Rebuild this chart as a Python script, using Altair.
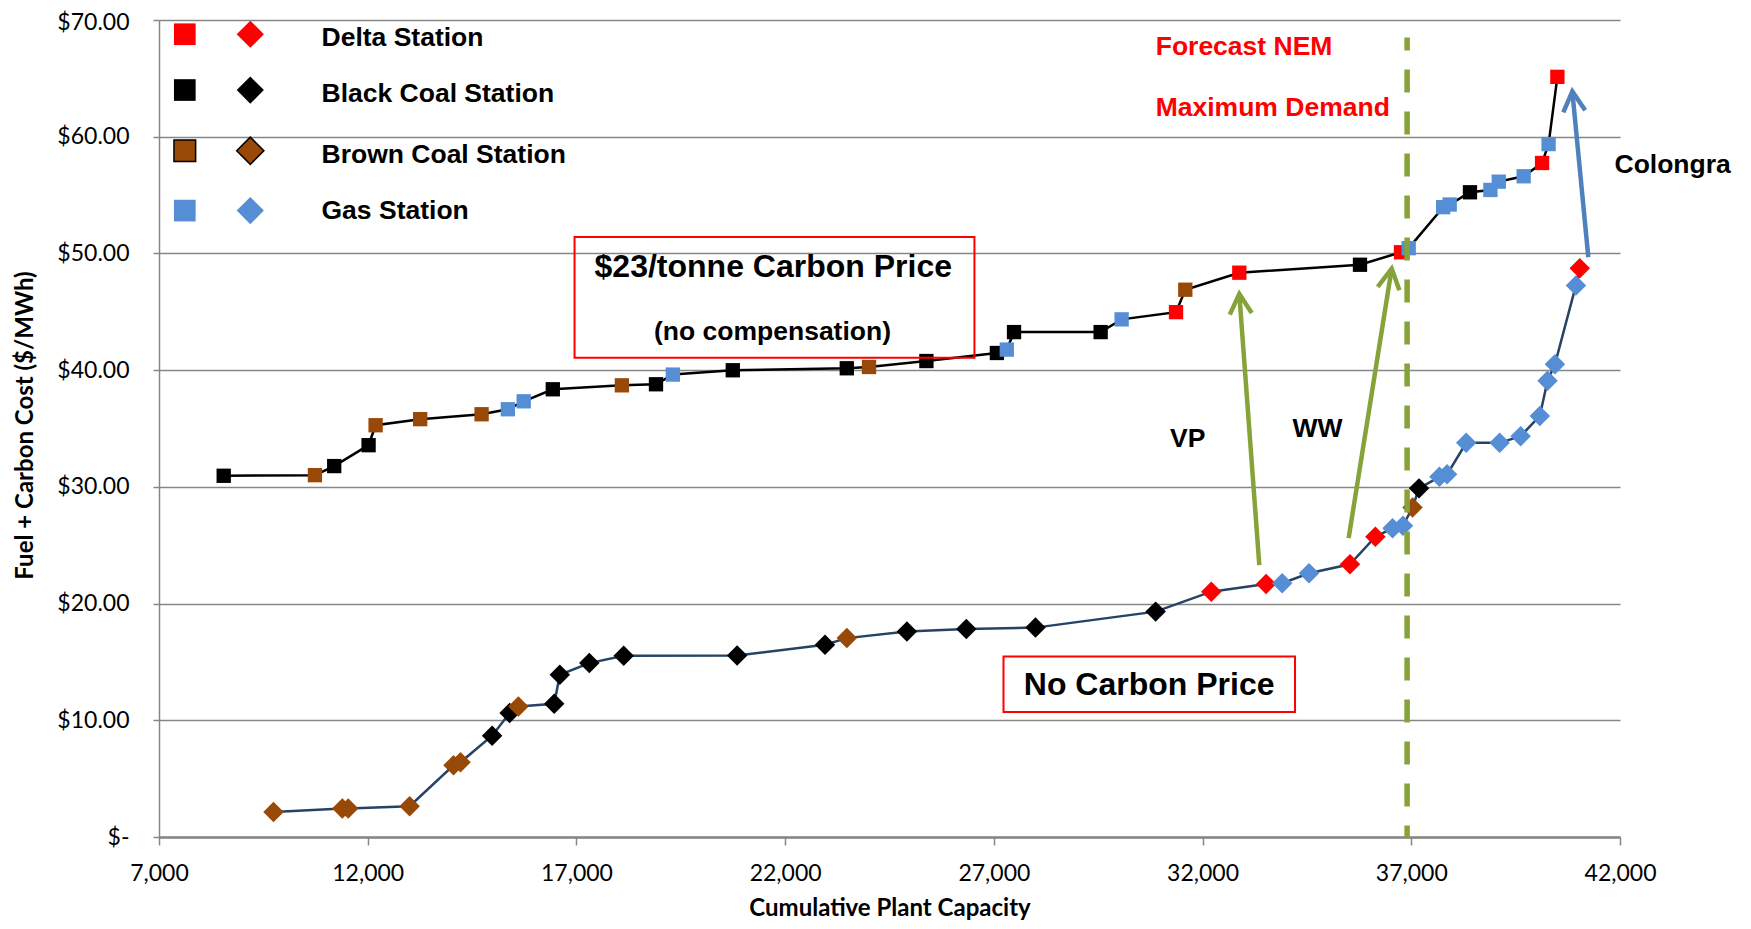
import altair as alt
import pandas as pd

# ---------------- data ----------------
TYPES = ["Delta", "Black", "Brown", "Gas"]
COLORS = ["#FF0000", "#000000", "#984807", "#558ED5"]

# $23/tonne carbon price (squares)
uc_cap = [8550, 10735, 11197, 12021, 12189, 13257, 14728, 15358, 15737, 16434,
          18089, 18906, 19309, 20746, 23477, 24009, 25384, 27073, 27310, 27483,
          29558, 30061, 31364, 31586, 32880, 35771, 36754, 36938, 37764, 37920,
          38406, 38895, 39096, 39692, 40133, 40289, 40500]
uc_cost = [30.95, 31.0, 31.78, 33.57, 35.28, 35.8, 36.22, 36.65, 37.33, 38.36,
           38.7, 38.79, 39.62, 39.99, 40.16, 40.27, 40.78, 41.47, 41.76, 43.26,
           43.26, 44.35, 44.97, 46.89, 48.35, 49.03, 50.1, 50.45, 53.96, 54.19,
           55.24, 55.44, 56.15, 56.61, 57.75, 59.37, 65.13]
uc_type = ["Black", "Brown", "Black", "Black", "Brown", "Brown", "Brown", "Gas", "Gas", "Black",
           "Brown", "Black", "Gas", "Black", "Black", "Brown", "Black", "Black", "Gas", "Black",
           "Black", "Gas", "Delta", "Brown", "Delta", "Black", "Delta", "Gas", "Gas", "Gas",
           "Black", "Gas", "Gas", "Gas", "Delta", "Gas", "Delta"]

# No carbon price (diamonds)
lc_cap = [9743, 11391, 11533, 13004, 14055, 14223, 14980, 15399, 15610, 16468,
          16602, 17308, 18132, 20850, 22955, 23477, 24917, 26340, 27997, 30876,
          32209, 33522, 33908, 34550, 35532, 36140, 36552, 36801, 37030, 37185,
          37674, 37857, 38316, 39116, 39620, 40079, 40264, 40441, 40944, 41036]
lc_cost = [2.15, 2.44, 2.44, 2.64, 6.14, 6.4, 8.68, 10.62, 11.19, 11.42,
           13.9, 14.9, 15.52, 15.55, 16.47, 17.04, 17.6, 17.83, 17.94, 19.31,
           21.02, 21.68, 21.74, 22.6, 23.37, 25.73, 26.45, 26.67, 28.24, 29.87,
           30.86, 31.07, 33.77, 33.77, 34.34, 36.08, 39.1, 40.5, 47.26, 48.74]
lc_type = ["Brown", "Brown", "Brown", "Brown", "Brown", "Brown", "Black", "Black", "Brown", "Black",
           "Black", "Black", "Black", "Black", "Black", "Brown", "Black", "Black", "Black", "Black",
           "Delta", "Delta", "Gas", "Gas", "Delta", "Delta", "Gas", "Gas", "Brown", "Black",
           "Gas", "Gas", "Gas", "Gas", "Gas", "Gas", "Gas", "Gas", "Gas", "Delta"]

# forecast maximum demand
demand_cap = [36900]
demand_top = [68.5]

# legend (inside plot, data coordinates)
leg_labels = ["Delta Station", "Black Coal Station", "Brown Coal Station", "Gas Station"]
leg_colors = COLORS
leg_marker_y = [68.78, 64.0, 58.8, 53.67]
leg_label_y = [67.78, 63.0, 57.72, 52.96]
leg_sq_x = 7618
leg_di_x = 9187
leg_text_x = 10893

# boxed annotations
box_x = [16955, 27231]
box_x2 = [26535, 34215]
box_y = [51.4, 15.47]
box_y2 = [41.07, 10.7]

center_text = ["$23/tonne Carbon Price", "(no compensation)", "No Carbon Price"]
center_x = [21716, 21697, 30721]
center_y = [47.97, 42.55, 12.19]
center_size = [32, 26.5, 32]

left_text = ["VP", "WW", "Colongra", "Forecast NEM", "Maximum Demand"]
left_x = [31220, 34157, 41868, 30877, 30877]
left_y = [33.43, 34.23, 56.86, 66.99, 61.8]
left_color = ["#000000", "#000000", "#000000", "#FF0000", "#FF0000"]

# arrows: start -> tip
arr_x0 = [33359, 35499, 41241]
arr_y0 = [23.3, 25.6, 49.68]
arr_x1 = [32880, 36530, 40858]
arr_y1 = [46.54, 48.69, 63.88]
arr_angle = [355.8, 8.9, 354.5]
arr_color = ["#85A338", "#85A338", "#4F81BD"]

# ---------------- frames ----------------
upper = pd.DataFrame({"cap": uc_cap, "cost": uc_cost, "type": uc_type})
lower = pd.DataFrame({"cap": lc_cap, "cost": lc_cost, "type": lc_type})
legend_sq = pd.DataFrame({"cap": [leg_sq_x] * 4, "cost": leg_marker_y, "col": leg_colors,
                          "stk": ["transparent", "transparent", "#000000", "transparent"]})
legend_di = pd.DataFrame({"cap": [leg_di_x] * 4, "cost": leg_marker_y, "col": leg_colors,
                          "stk": ["transparent", "transparent", "#000000", "transparent"]})
legend_tx = pd.DataFrame({"cap": [leg_text_x] * 4, "cost": leg_label_y, "label": leg_labels})
boxes = pd.DataFrame({"cap": box_x, "x2": box_x2, "cost": box_y, "y2": box_y2})
ctext = pd.DataFrame({"cap": center_x, "cost": center_y, "label": center_text, "fs": center_size})
ltext = pd.DataFrame({"cap": left_x, "cost": left_y, "label": left_text, "col": left_color})
demand = pd.DataFrame({"cap": demand_cap, "cost": demand_top, "bottom": [0]})
arrows = pd.DataFrame({"cap": arr_x0, "cost": arr_y0, "x1": arr_x1, "y1": arr_y1,
                       "ang": arr_angle, "col": arr_color})
heads = pd.DataFrame({"cap": arr_x1, "cost": arr_y1, "ang": arr_angle, "col": arr_color})

# ---------------- scales/axes ----------------
xs = alt.Scale(domain=[7000, 42000], nice=False, zero=False)
ys = alt.Scale(domain=[0, 70], nice=False, zero=True)
cs = alt.Scale(domain=TYPES, range=COLORS)

GRAY = "#868686"
PLOT_W, PLOT_H = 1461, 817
x_axis = alt.Axis(values=list(range(7000, 42001, 5000)),
                  labelExpr="format(datum.value, ',')", grid=False,
                  title="Cumulative Plant Capacity", labelFont="Lato", labelFontSize=23,
                  labelColor="#000000", labelPadding=17, tickSize=8, tickColor=GRAY,
                  tickWidth=1.5, domainColor=GRAY, domainWidth=2.5, labelFlush=False,
                  labelOverlap=False, titleFont="Lato", titleFontSize=24,
                  titleFontWeight="bold", titleColor="#000000", titleX=PLOT_W / 2, titleY=71,
                  titleBaseline="middle", titleAlign="center")
y_axis = alt.Axis(values=list(range(0, 71, 10)),
                  labelExpr="datum.value == 0 ? '$-' : '$' + format(datum.value, '.2f')",
                  labelOffset={"condition": {"test": "datum.value == 70", "value": 2}, "value": 0},
                  grid=True, gridColor=GRAY, gridWidth=1.5, labelFont="Lato",
                  labelFontSize=23, labelColor="#000000", labelPadding=24, tickSize=6,
                  tickColor=GRAY, tickWidth=1.5, domainColor=GRAY, domainWidth=1.5,
                  title="Fuel + Carbon Cost ($/MWh)", titleFont="Lato", titleFontSize=24,
                  titleFontWeight="bold", titleColor="#000000", titleX=-134, titleY=405,
                  titleAngle=270, titleBaseline="middle", titleAlign="center")

X = alt.X("cap:Q", scale=xs, axis=x_axis, title="Cumulative Plant Capacity")
Y = alt.Y("cost:Q", scale=ys, axis=y_axis, title="Fuel + Carbon Cost ($/MWh)")

upper_line = alt.Chart(upper).mark_line(color="#000000", strokeWidth=2.5).encode(x=X, y=Y)
lower_line = alt.Chart(lower).mark_line(color="#264365", strokeWidth=2.5).encode(x=X, y=Y)

upper_pts = alt.Chart(upper).mark_point(shape="square", filled=True, size=205, opacity=1).encode(
    x=X, y=Y, color=alt.Color("type:N", scale=cs, legend=None))
lower_pts = alt.Chart(lower).mark_point(shape="diamond", filled=True, size=420, opacity=1).encode(
    x=X, y=Y, color=alt.Color("type:N", scale=cs, legend=None))

box_layer = alt.Chart(boxes).mark_rect(fillOpacity=0, stroke="#FF0000", strokeWidth=2).encode(
    x=X, x2="x2:Q", y=Y, y2="y2:Q")

ctext_layer = alt.Chart(ctext).mark_text(font="Liberation Sans", fontWeight="bold", align="center",
                                         baseline="alphabetic", color="#000000").encode(
    x=X, y=Y, text="label:N", size=alt.Size("fs:Q", scale=None))
ltext_layer = alt.Chart(ltext).mark_text(font="Liberation Sans", fontWeight="bold", align="left",
                                         baseline="alphabetic", fontSize=26.5).encode(
    x=X, y=Y, text="label:N", color=alt.Color("col:N", scale=None))

leg_sq_layer = alt.Chart(legend_sq).mark_point(shape="square", filled=True, size=470, opacity=1,
                                               strokeWidth=1.5).encode(
    x=X, y=Y, fill=alt.Fill("col:N", scale=None), stroke=alt.Stroke("stk:N", scale=None))
leg_di_layer = alt.Chart(legend_di).mark_point(shape="diamond", filled=True, size=740, opacity=1,
                                               strokeWidth=1.5).encode(
    x=X, y=Y, fill=alt.Fill("col:N", scale=None), stroke=alt.Stroke("stk:N", scale=None))
leg_tx_layer = alt.Chart(legend_tx).mark_text(font="Liberation Sans", fontWeight="bold", align="left",
                                              baseline="alphabetic", fontSize=26.5,
                                              color="#000000").encode(
    x=X, y=Y, text="label:N")

demand_layer = alt.Chart(demand).mark_rule(color="#85A338", strokeWidth=5.5,
                                           strokeDash=[23, 19], strokeDashOffset=10).encode(
    x=X, y=Y, y2="bottom:Q")

shaft_layer = alt.Chart(arrows).mark_rule(strokeWidth=4.5).encode(
    x=X, y=Y, x2="x1:Q", y2="y1:Q", color=alt.Color("col:N", scale=None))
head_layer = alt.Chart(heads).mark_point(shape="M -0.55 1 L 0 0 L 0.55 1", filled=False,
                                         size=1600, strokeWidth=4.5, opacity=1).encode(
    x=X, y=Y, angle=alt.Angle("ang:Q", scale=None),
    color=alt.Color("col:N", scale=None))

chart = alt.layer(
    upper_line, lower_line, upper_pts, lower_pts, box_layer, ctext_layer, ltext_layer,
    leg_sq_layer, leg_di_layer, leg_tx_layer, demand_layer, shaft_layer, head_layer
).properties(
    width=PLOT_W, height=PLOT_H,
    autosize=alt.AutoSizeParams(type="none"),
    padding={"left": 151, "top": 12, "right": 115, "bottom": 84},
    background="#FFFFFF",
).configure_view(stroke=None)

chart.save("out.html", embed_options={"renderer": "svg", "actions": False})
